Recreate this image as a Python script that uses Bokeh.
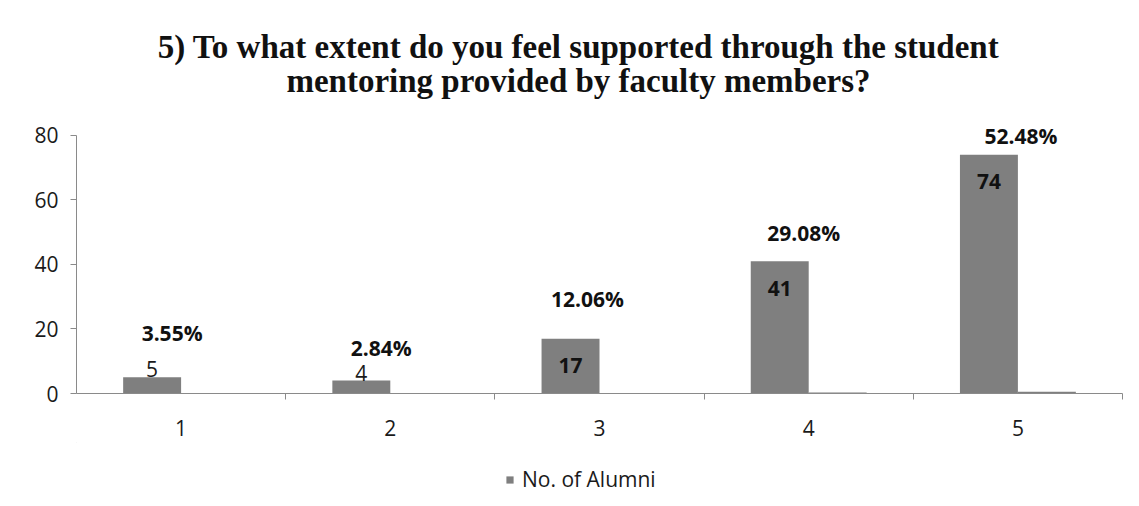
from bokeh.plotting import figure
from bokeh.layouts import column
from bokeh.models import (ColumnDataSource, LabelSet, Label, FixedTicker, Range1d,
                          Legend, LegendItem)
from bokeh.core.properties import value
from bokeh.transform import dodge
from bokeh.embed import file_html
from bokeh.resources import INLINE

# ---- data ----
categories = [1, 2, 3, 4, 5]
category_labels = ["1", "2", "3", "4", "5"]
no_of_alumni = [5, 4, 17, 41, 74]
percentages = [3.55, 2.84, 12.06, 29.08, 52.48]
title_lines = ["5) To what extent do you feel supported through the student",
               "mentoring provided by faculty members?"]
series_name = "No. of Alumni"
y_ticks = [0, 20, 40, 60, 80]

FONT = "Open Sans"
TITLE_FONT = "Liberation Serif"
BAR_COLOR = "#7f7f7f"
TEXT = "#1a1a1a"
AXIS = "#8a8a8a"
W = 1123
LEFT, RIGHT = 76, 1

def strip(height):
    f = figure(width=W, height=height, output_backend="svg", toolbar_location=None,
               x_range=Range1d(LEFT, W - RIGHT), y_range=Range1d(height, 0),
               x_axis_type=None, y_axis_type=None, title=None,
               min_border_left=LEFT, min_border_right=RIGHT,
               min_border_top=0, min_border_bottom=0)
    f.outline_line_color = None
    f.xgrid.grid_line_color = None
    f.ygrid.grid_line_color = None
    return f

# ---------------- title strip (coordinates = page pixels) ----------------
tfig = strip(106)
for txt, ym in zip(title_lines, [46, 80]):
    tfig.add_layout(Label(x=578, y=ym, text=txt, text_align="center",
                          text_baseline="middle", text_font=TITLE_FONT,
                          text_font_size="33px", text_font_style="bold",
                          text_color="#111111"))

# ---------------- main chart ----------------
src = ColumnDataSource(dict(
    x=categories,
    count=no_of_alumni,
    frac=[p / 100.0 for p in percentages],
    pct_text=["%.2f%%" % p for p in percentages],
    count_text=[str(c) for c in no_of_alumni],
))

p = figure(width=W, height=336, output_backend="svg", toolbar_location=None,
           x_range=Range1d(0.5, 5.5), y_range=Range1d(0, 88), title=None,
           min_border_left=LEFT, min_border_right=RIGHT, min_border_top=3,
           min_border_bottom=49)
p.outline_line_color = None
p.xgrid.grid_line_color = None
p.ygrid.grid_line_color = None

w = 0.277
bars = p.vbar(x=dodge("x", -w / 2, range=p.x_range), top="count", width=w,
              source=src, fill_color=BAR_COLOR, line_color=None)
p.vbar(x=dodge("x", w / 2, range=p.x_range), top="frac", width=w,
       source=src, fill_color=BAR_COLOR, line_color=None)

yax = p.yaxis[0]
yax.ticker = FixedTicker(ticks=y_ticks)
yax.bounds = (y_ticks[0], y_ticks[-1])
yax.axis_line_color = AXIS
yax.major_tick_line_color = AXIS
yax.major_tick_out = 6
yax.major_tick_in = 0
yax.minor_tick_line_color = None
yax.major_label_text_font = FONT
yax.major_label_text_font_size = "21px"
yax.major_label_text_color = TEXT
yax.major_label_standoff = 12

xax = p.xaxis[0]
xax.ticker = FixedTicker(ticks=categories,
                         minor_ticks=[c + 0.5 for c in categories])
xax.major_label_overrides = {c: l for c, l in zip(categories, category_labels)}
xax.axis_line_color = AXIS
xax.major_tick_line_color = None
xax.major_tick_out = 0
xax.major_tick_in = 0
xax.minor_tick_line_color = AXIS
xax.minor_tick_out = 6
xax.minor_tick_in = 0
xax.major_label_text_font = FONT
xax.major_label_text_font_size = "21px"
xax.major_label_text_color = TEXT
xax.major_label_standoff = 20

# count labels: small values above the bar, larger ones inside in bold
small = [i for i, c in enumerate(no_of_alumni) if c < 10]
big = [i for i, c in enumerate(no_of_alumni) if c >= 10]
src_small = ColumnDataSource({k: [v[i] for i in small] for k, v in src.data.items()})
src_big = ColumnDataSource({k: [v[i] for i in big] for k, v in src.data.items()})
p.add_layout(LabelSet(x=dodge("x", -w / 2, range=p.x_range), y="count", text="count_text",
                      source=src_small, text_align="center", text_baseline="bottom",
                      y_offset=0, text_font=value(FONT), text_font_size="21px",
                      text_color=TEXT))
p.add_layout(LabelSet(x=dodge("x", -w / 2, range=p.x_range), y="count", text="count_text",
                      source=src_big, text_align="center", text_baseline="middle",
                      y_offset=-27, text_font=value(FONT), text_font_size="21px",
                      text_font_style="bold", text_color="#111111"))

# percentage labels, placed above each category as in the original (pixel nudges)
pct_dx = [-9, -9, -12, -5, 3]
pct_dy = [44, 33, 40, 28, 19]
src.data["pct_dx"] = pct_dx
src.data["pct_dy"] = pct_dy
p.add_layout(LabelSet(x="x", y="count", text="pct_text", source=src,
                      text_align="center", text_baseline="middle",
                      x_offset="pct_dx", y_offset="pct_dy", text_font=value(FONT),
                      text_font_size="21px", text_font_style="bold",
                      text_color="#111111"))

# ---------------- legend strip ----------------
lfig = strip(52)
# off-screen stand-in so the legend swatch takes the bar style
dummy = lfig.vbar(x=[-100], top=[-100], bottom=[-110], width=1,
                  fill_color=BAR_COLOR, line_color=None)
legend = Legend(items=[LegendItem(label=series_name, renderers=[dummy])],
                location=(429, 1), orientation="horizontal",
                glyph_width=9, glyph_height=9, label_text_font=FONT,
                label_text_font_size="21px", label_text_color=TEXT,
                border_line_color=None, background_fill_alpha=0,
                margin=0, padding=0, label_standoff=8)
lfig.add_layout(legend, "center")

layout = column(tfig, p, lfig, spacing=0)
open("out.html", "w").write(file_html(layout, INLINE))
